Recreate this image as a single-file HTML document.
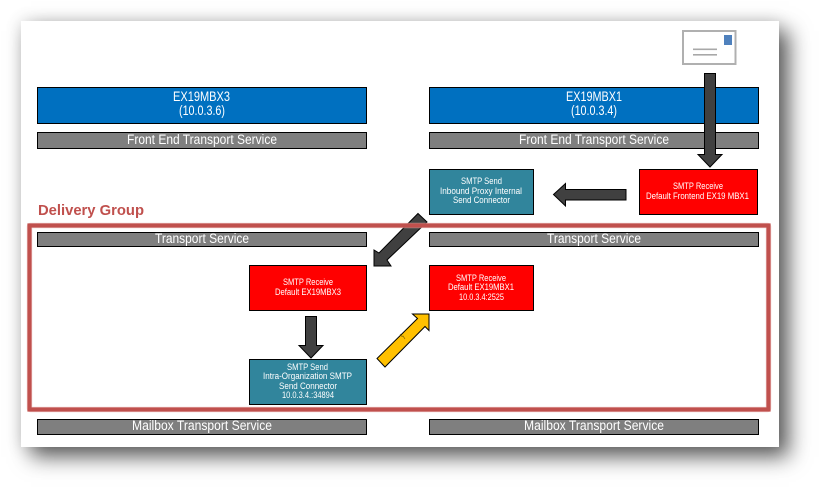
<!DOCTYPE html>
<html><head><meta charset="utf-8"><style>
html,body{margin:0;padding:0;width:821px;height:489px;background:#fff;overflow:hidden}
#s{position:absolute;left:21px;top:21px;width:758px;height:426px;background:#fff;box-shadow:10px 10px 20px rgba(0,0,0,.62),0 0 16px rgba(0,0,0,.14)}
svg{position:absolute;left:0;top:0}
text{font-family:"Liberation Sans",sans-serif;fill:#fff}
.a{font-size:13.5px}.b{font-size:9px}
</style></head><body><div id="s"></div>
<svg width="821" height="489" viewBox="0 0 821 489" xmlns="http://www.w3.org/2000/svg">
<g stroke="#000" stroke-width="1">
<rect x="37.5" y="87.5" width="329" height="36" fill="#0070c0"/>
<rect x="429.5" y="87.5" width="329" height="36" fill="#0070c0"/>
<rect x="37.5" y="132.5" width="329" height="16" fill="#7f7f7f"/>
<rect x="429.5" y="132.5" width="329" height="16" fill="#7f7f7f"/>
<rect x="37.5" y="232.5" width="329" height="14" fill="#7f7f7f"/>
<rect x="429.5" y="232.5" width="329" height="14" fill="#7f7f7f"/>
<rect x="37.5" y="419.5" width="329" height="15" fill="#7f7f7f"/>
<rect x="429.5" y="419.5" width="329" height="15" fill="#7f7f7f"/>
<rect x="429.5" y="169.5" width="104" height="45" fill="#31859c"/>
<rect x="639.5" y="169.5" width="118" height="45" fill="#ff0000"/>
<rect x="249.5" y="265.5" width="117" height="45" fill="#ff0000"/>
<rect x="429.5" y="265.5" width="104" height="45" fill="#ff0000"/>
<rect x="249.5" y="359.5" width="117" height="45" fill="#31859c"/>
</g>
<rect x="683" y="31" width="52.5" height="33" fill="#fff" stroke="#b0b0b0" stroke-width="2"/>
<rect x="724" y="35" width="8" height="10" fill="#4f81bd"/>
<rect x="693" y="48.5" width="24" height="1.6" fill="#a8a8a8"/>
<rect x="693" y="54" width="24" height="1.6" fill="#a8a8a8"/>
<g fill="#404040" stroke="#000" stroke-width="1">
<polygon points="704.5,73.5 715.5,73.5 715.5,154.5 722,154.5 710,167 698,154.5 704.5,154.5"/>
<polygon points="626,189.5 626,200 565.5,200 565.5,206 553.5,194.5 565.5,183.5 565.5,189.5"/>
<polygon points="305.5,316.5 316.5,316.5 316.5,345.5 323,345.5 311,358 299,345.5 305.5,345.5"/>
<polygon points="418,213.5 427,222 387,260 391,266 374,266 374,250 379,253"/>
<polygon points="429,314 429,330.5 425,326.5 385,367 377,358.5 417.500,318.500 412.500,314" fill="#ffc000"/>
</g>
<path d="M400 334l2 2.500 1-.5 2 3" fill="none" stroke="#8a6a00" stroke-width=".7"/>
<rect x="29.500" y="225.500" width="739" height="184" fill="none" stroke="#e8b8b6" stroke-width="5.500" rx="1" opacity=".6"/>
<rect x="29.500" y="225.500" width="739" height="184" fill="none" stroke="#c0504d" stroke-width="4.200"/>
<text x="173" y="101" class="a" textLength="57" lengthAdjust="spacingAndGlyphs">EX19MBX3</text>
<text x="179" y="115" class="a" textLength="46" lengthAdjust="spacingAndGlyphs">(10.0.3.6)</text>
<text x="566" y="101" class="a" textLength="56" lengthAdjust="spacingAndGlyphs">EX19MBX1</text>
<text x="571" y="115" class="a" textLength="46" lengthAdjust="spacingAndGlyphs">(10.0.3.4)</text>
<text x="127" y="144" class="a" textLength="150" lengthAdjust="spacingAndGlyphs">Front End Transport Service</text>
<text x="519" y="144" class="a" textLength="150" lengthAdjust="spacingAndGlyphs">Front End Transport Service</text>
<text x="155" y="243" class="a" textLength="94" lengthAdjust="spacingAndGlyphs">Transport Service</text>
<text x="547" y="243" class="a" textLength="94" lengthAdjust="spacingAndGlyphs">Transport Service</text>
<text x="132" y="430" class="a" textLength="140" lengthAdjust="spacingAndGlyphs">Mailbox Transport Service</text>
<text x="524" y="430" class="a" textLength="140" lengthAdjust="spacingAndGlyphs">Mailbox Transport Service</text>
<text x="38" y="215" font-size="15" font-weight="bold" style="fill:#c0504d" textLength="106" lengthAdjust="spacingAndGlyphs">Delivery Group</text>
<text x="461" y="184" class="b" textLength="41" lengthAdjust="spacingAndGlyphs">SMTP Send</text>
<text x="440" y="194" class="b" textLength="82" lengthAdjust="spacingAndGlyphs">Inbound Proxy Internal</text>
<text x="453" y="203" class="b" textLength="57" lengthAdjust="spacingAndGlyphs">Send Connector</text>
<text x="673" y="189" class="b" textLength="50" lengthAdjust="spacingAndGlyphs">SMTP Receive</text>
<text x="646" y="199" class="b" textLength="103" lengthAdjust="spacingAndGlyphs">Default Frontend EX19 MBX1</text>
<text x="283" y="285" class="b" textLength="50" lengthAdjust="spacingAndGlyphs">SMTP Receive</text>
<text x="275" y="295" class="b" textLength="66" lengthAdjust="spacingAndGlyphs">Default EX19MBX3</text>
<text x="456" y="281" class="b" textLength="50" lengthAdjust="spacingAndGlyphs">SMTP Receive</text>
<text x="448" y="290" class="b" textLength="66" lengthAdjust="spacingAndGlyphs">Default EX19MBX1</text>
<text x="459" y="300" class="b" textLength="45" lengthAdjust="spacingAndGlyphs">10.0.3.4:2525</text>
<text x="287" y="370" class="b" textLength="41" lengthAdjust="spacingAndGlyphs">SMTP Send</text>
<text x="263" y="379" class="b" textLength="89" lengthAdjust="spacingAndGlyphs">Intra-Organization SMTP</text>
<text x="279" y="389" class="b" textLength="58" lengthAdjust="spacingAndGlyphs">Send Connector</text>
<text x="282" y="398" class="b" textLength="52" lengthAdjust="spacingAndGlyphs">10.0.3.4.:34894</text>
</svg></body></html>
